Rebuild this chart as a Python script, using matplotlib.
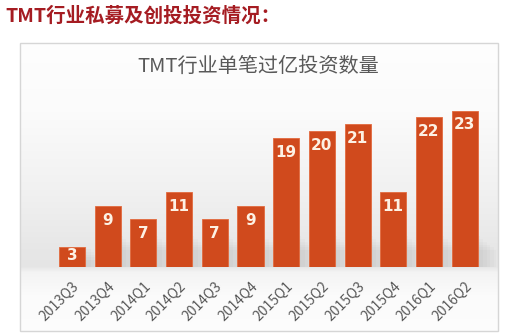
import matplotlib.pyplot as plt
import numpy as np
from matplotlib.patches import Rectangle

plt.rcParams['font.family'] = ['Noto Sans CJK SC', 'DejaVu Sans']

# quarterly counts of TMT deals above 100M
quarters = ['2013Q3', '2013Q4', '2014Q1', '2014Q2', '2014Q3', '2014Q4',
            '2015Q1', '2015Q2', '2015Q3', '2015Q4', '2016Q1', '2016Q2']
counts = [3, 9, 7, 11, 7, 9, 19, 20, 21, 11, 22, 23]

W, H = 520, 334
fig = plt.figure(figsize=(W / 100, H / 100), dpi=100)
fig.patch.set_facecolor('white')

# heading above the chart box
fig.text(5 / W, 1 - 16 / H, 'TMT行业私募及创投投资情况：', fontsize=14,
         fontweight='bold', color='#a51c22', va='center', ha='left')

# chart box with soft grey backdrop
bx0, by0, bx1, by1 = 20, 43, 498, 331
bg = fig.add_axes([bx0 / W, (H - by1) / H, (bx1 - bx0) / W, (by1 - by0) / H])
py = np.arange(by0, by1)
shade = np.interp(py, [43, 110, 190, 250, 266, 272, 295, 331],
                  [0.995, 0.985, 0.945, 0.905, 0.90, 0.955, 0.985, 0.99])
bg.imshow(np.repeat(shade[:, None], 3, axis=1)[:, None, :].repeat(2, axis=1),
          aspect='auto', extent=[0, 1, 0, 1], interpolation='bilinear')
bg.set_xlim(0, 1)
bg.set_ylim(0, 1)
bg.axis('off')
fig.patches.append(Rectangle((bx0 / W, (H - by1) / H), (bx1 - bx0) / W,
                             (by1 - by0) / H, transform=fig.transFigure,
                             fill=False, edgecolor='#d6d6d6', linewidth=1))

fig.text(258 / W, 1 - 66 / H, 'TMT行业单笔过亿投资数量', fontsize=14.5,
         color='#595959', ha='center', va='center')

# bar axes: base at 267px from top, 6.8px per unit, bars 35.7px apart
scale = 6.8
base = 267
top = 90
ax = fig.add_axes([22 / W, (H - base) / H, (496 - 22) / W, (base - top) / H])
ax.set_facecolor('none')
x = np.arange(len(counts))
ax.set_xlim((22 - 72) / 35.7, (496 - 72) / 35.7)
ax.set_ylim(0, (base - top) / scale)

# soft shadows behind the bars
for xi, v in zip(x, counts):
    h = min(v, 4.5)
    for k in range(6):
        ax.add_patch(Rectangle((xi - 0.36 + 0.06 + 0.02 * k, 0), 0.72 + 0.08 * k,
                               h - 0.4 * k, color='#9a9a9a', alpha=0.05,
                               linewidth=0, zorder=1))

bars = ax.bar(x, counts, width=0.73, color='#d04a1d', edgecolor='#e26a3e',
              linewidth=0.6, zorder=3)
for xi, v in zip(x, counts):
    ax.text(xi, v - min(2.1, v * 0.42), str(v), ha='center', va='center',
            fontsize=11, fontweight='bold', color='#fdf1e4',
            family='DejaVu Sans', zorder=4)

for s in ax.spines.values():
    s.set_visible(False)
ax.set_yticks([])
ax.set_xticks(x)
ax.set_xticklabels(quarters, rotation=45, ha='right', rotation_mode='anchor',
                   fontsize=10, color='#595959')
ax.tick_params(axis='x', length=0, pad=9)

fig.savefig('out.png', dpi=100, facecolor='white')
